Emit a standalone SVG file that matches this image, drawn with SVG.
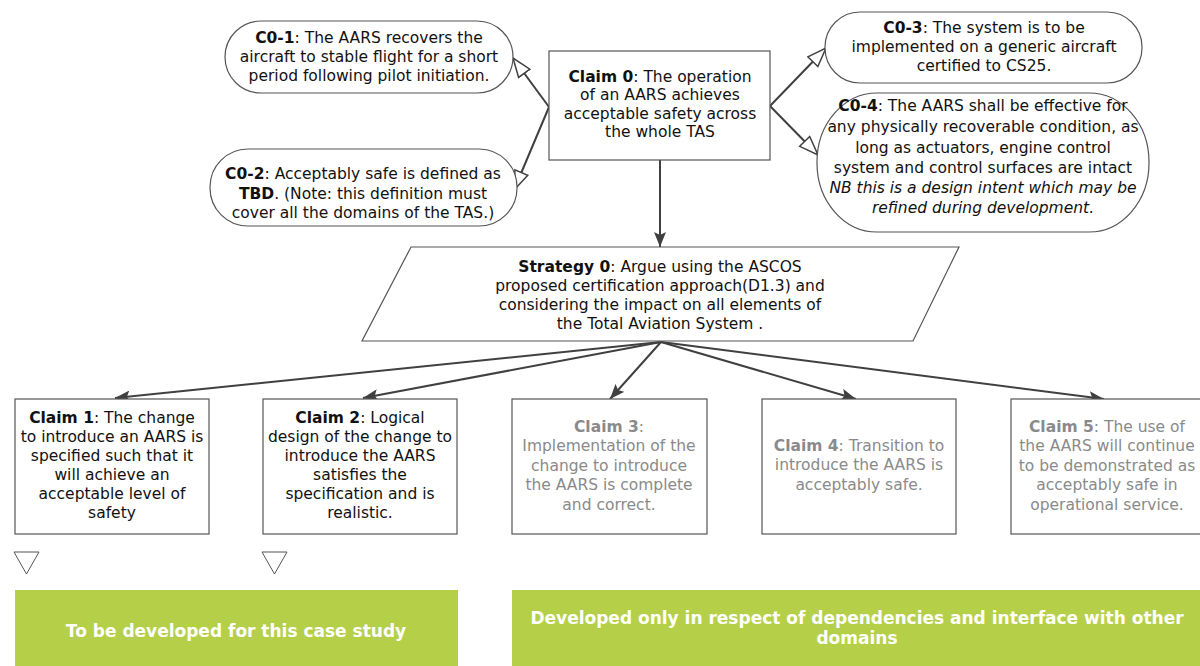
<svg xmlns="http://www.w3.org/2000/svg" width="1200" height="666" viewBox="0 0 1200 666">
<style>
text{font-family:"DejaVu Sans",Verdana,sans-serif;font-size:15.5px;fill:#111;text-anchor:middle}
.b{font-weight:bold}
.i{font-style:italic}
.g{fill:#8a8a8a}
.shape{fill:#fff;stroke:#555;stroke-width:1.2}
.conn{stroke:#404040;stroke-width:2;fill:none}
.green{fill:#b5cf49}
.wt{fill:#fff;font-weight:bold;font-size:17px}
</style>
<defs>
<marker id="open" markerUnits="userSpaceOnUse" markerWidth="24" markerHeight="18" refX="20" refY="8" orient="auto">
<path d="M1,1 L20,8 L1,15 Z" fill="#fff" stroke="#404040" stroke-width="1.5"/>
</marker>
<marker id="fill" markerUnits="userSpaceOnUse" markerWidth="16" markerHeight="12" refX="15" refY="6" orient="auto">
<path d="M0,0 L15,6 L0,12 L3,6 Z" fill="#404040"/>
</marker>
</defs>
<rect width="1200" height="666" fill="#fff"/>

<g id="connectors">
<line class="conn" x1="549" y1="107" x2="513" y2="58" marker-end="url(#open)"/>
<line class="conn" x1="549" y1="107" x2="514" y2="190" marker-end="url(#open)"/>
<line class="conn" x1="770" y1="106" x2="826" y2="48" marker-end="url(#open)"/>
<line class="conn" x1="770" y1="106" x2="818" y2="155" marker-end="url(#open)"/>
<line class="conn" x1="660" y1="160" x2="660" y2="247" marker-end="url(#fill)"/>
<line class="conn" x1="661" y1="342" x2="115" y2="398" marker-end="url(#fill)"/>
<line class="conn" x1="661" y1="342" x2="363" y2="398" marker-end="url(#fill)"/>
<line class="conn" x1="661" y1="342" x2="610" y2="399" marker-end="url(#fill)"/>
<line class="conn" x1="661" y1="342" x2="856" y2="399" marker-end="url(#fill)"/>
<line class="conn" x1="661" y1="342" x2="1104" y2="399" marker-end="url(#fill)"/>
</g>

<g id="c0-1">
<rect class="shape" x="225" y="21" width="288" height="72" rx="36" ry="36"/>
<text x="369" y="43"><tspan class="b">C0-1</tspan>: The AARS recovers the</text>
<text x="369" y="62">aircraft to stable flight for a short</text>
<text x="369" y="81">period following pilot initiation.</text>
</g>

<g id="c0-2">
<rect class="shape" x="210" y="149" width="307" height="77" rx="38" ry="38"/>
<text x="363" y="179"><tspan class="b">C0-2</tspan>: Acceptably safe is defined as</text>
<text x="363" y="199"><tspan class="b">TBD</tspan>. (Note: this definition must</text>
<text x="363" y="218">cover all the domains of the TAS.)</text>
</g>

<g id="claim0">
<rect class="shape" x="549" y="51" width="221" height="109"/>
<text x="660" y="82"><tspan class="b">Claim 0</tspan>: The operation</text>
<text x="660" y="100">of an AARS achieves</text>
<text x="660" y="119">acceptable safety across</text>
<text x="660" y="137">the whole TAS</text>
</g>

<g id="c0-3">
<rect class="shape" x="825" y="12" width="317" height="71" rx="35" ry="35"/>
<text x="984" y="33"><tspan class="b">C0-3</tspan>: The system is to be</text>
<text x="984" y="52">implemented on a generic aircraft</text>
<text x="984" y="71">certified to CS25.</text>
</g>

<g id="c0-4">
<rect class="shape" x="817" y="93" width="332" height="139" rx="60" ry="69"/>
<text x="983" y="111"><tspan class="b">C0-4</tspan>: The AARS shall be effective for</text>
<text x="983" y="132">any physically recoverable condition, as</text>
<text x="983" y="153">long as actuators, engine control</text>
<text x="983" y="173">system and control surfaces are intact</text>
<text x="983" y="193" class="i">NB this is a design intent which may be</text>
<text x="983" y="213" class="i">refined during development.</text>
</g>

<g id="strategy0">
<polygon class="shape" points="411,247 959,247 913,341 362,341"/>
<text x="660" y="272"><tspan class="b">Strategy 0</tspan>: Argue using the ASCOS</text>
<text x="660" y="291">proposed certification approach(D1.3) and</text>
<text x="660" y="310">considering the impact on all elements of</text>
<text x="660" y="329">the Total Aviation System .</text>
</g>

<g id="claim1">
<rect class="shape" x="15" y="399" width="194" height="135"/>
<text x="112" y="423"><tspan class="b">Claim 1</tspan>: The change</text>
<text x="112" y="442">to introduce an AARS is</text>
<text x="112" y="461">specified such that it</text>
<text x="112" y="480">will achieve an</text>
<text x="112" y="499">acceptable level of</text>
<text x="112" y="518">safety</text>
<polygon points="14,552 39,552 26.5,574" fill="#fff" stroke="#555" stroke-width="1"/>
</g>

<g id="claim2">
<rect class="shape" x="263" y="399" width="194" height="135"/>
<text x="360" y="423"><tspan class="b">Claim 2</tspan>: Logical</text>
<text x="360" y="442">design of the change to</text>
<text x="360" y="461">introduce the AARS</text>
<text x="360" y="480">satisfies the</text>
<text x="360" y="499">specification and is</text>
<text x="360" y="518">realistic.</text>
<polygon points="262,552 287,552 274.5,574" fill="#fff" stroke="#555" stroke-width="1"/>
</g>

<g id="claim3">
<rect class="shape" x="512" y="399" width="195" height="135"/>
<text class="g" x="609" y="432"><tspan class="b">Claim 3</tspan>:</text>
<text class="g" x="609" y="451">Implementation of the</text>
<text class="g" x="609" y="471">change to introduce</text>
<text class="g" x="609" y="490">the AARS is complete</text>
<text class="g" x="609" y="510">and correct.</text>
</g>

<g id="claim4">
<rect class="shape" x="762" y="399" width="194" height="135"/>
<text class="g" x="859" y="451"><tspan class="b">Claim 4</tspan>: Transition to</text>
<text class="g" x="859" y="470">introduce the AARS is</text>
<text class="g" x="859" y="490">acceptably safe.</text>
</g>

<g id="claim5">
<rect class="shape" x="1011" y="399" width="194" height="135"/>
<text class="g" x="1107" y="432"><tspan class="b">Claim 5</tspan>: The use of</text>
<text class="g" x="1107" y="451">the AARS will continue</text>
<text class="g" x="1107" y="471">to be demonstrated as</text>
<text class="g" x="1107" y="490">acceptably safe in</text>
<text class="g" x="1107" y="510">operational service.</text>
</g>

<g id="legend1">
<rect class="green" x="15" y="590" width="443" height="76"/>
<text class="wt" x="236" y="637">To be developed for this case study</text>
</g>

<g id="legend2">
<rect class="green" x="512" y="590" width="688" height="76"/>
<text class="wt" x="857" y="624">Developed only in respect of dependencies and interface with other</text>
<text class="wt" x="857" y="644">domains</text>
</g>
</svg>
